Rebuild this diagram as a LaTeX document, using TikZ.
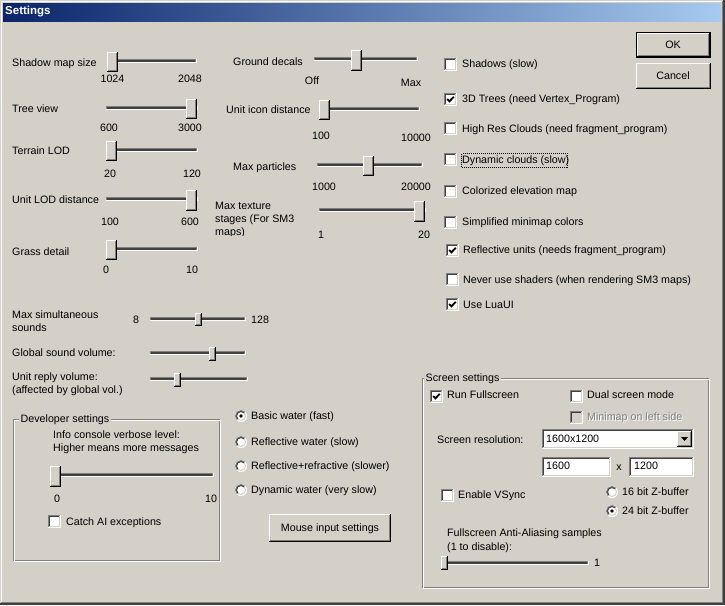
\documentclass[tikz,border=0pt]{standalone}
\usepackage{fontspec}
\setmainfont{Liberation Sans}
\definecolor{face}{HTML}{D4D0C8}
\definecolor{shd}{HTML}{808080}
\definecolor{dks}{HTML}{404040}
\definecolor{tleft}{HTML}{0A246A}
\definecolor{tright}{HTML}{A6CAF0}
\definecolor{hil}{HTML}{FFFFFF}
\tikzset{
  ui/.style={inner sep=0pt, text height=7.6pt, text depth=1.2pt, font=\fontsize{10.7}{12}\selectfont},
  lbl/.style={ui, anchor=west},
  num/.style={ui, anchor=center},
  grouplbl/.style={ui, anchor=west, fill=face, inner xsep=1.5pt},
  disabled/.style={lbl, text=shd},
}
% track: x1 x2 y
\newcommand\uitrack[3]{%
  \fill[hil] (#1,{#3-2}) rectangle ({#2+1},{#3+2});
  \fill[shd] (#1,{#3-2}) rectangle (#2,{#3+1});
  \fill[dks] ({#1+1},{#3-1}) rectangle ({#2-1},{#3+1});
}
% raised box: x1 y1 x2 y2
\newcommand\uiraised[4]{%
  \fill[face] (#1,#2) rectangle (#3,#4);
  \fill[black] (#1,{#4-1}) rectangle (#3,#4);
  \fill[black] ({#3-1},#2) rectangle (#3,#4);
  \fill[hil] (#1,#2) rectangle ({#3-1},{#2+1});
  \fill[hil] (#1,#2) rectangle ({#1+1},{#4-1});
  \fill[shd] ({#1+1},{#4-2}) rectangle ({#3-1},{#4-1});
  \fill[shd] ({#3-2},{#2+1}) rectangle ({#3-1},{#4-1});
}
% sunken box: x1 y1 x2 y2 fill
\newcommand\uisunken[5]{%
  \fill[#5] (#1,#2) rectangle (#3,#4);
  \fill[hil] (#1,{#4-1}) rectangle (#3,#4);
  \fill[hil] ({#3-1},#2) rectangle (#3,#4);
  \fill[shd] (#1,#2) rectangle ({#3-1},{#2+1});
  \fill[shd] (#1,#2) rectangle ({#1+1},{#4-1});
  \fill[dks] ({#1+1},{#2+1}) rectangle ({#3-2},{#2+2});
  \fill[dks] ({#1+1},{#2+1}) rectangle ({#1+2},{#4-2});
  \fill[face] ({#1+1},{#4-2}) rectangle ({#3-1},{#4-1});
  \fill[face] ({#3-2},{#2+1}) rectangle ({#3-1},{#4-1});
}
% checkbox at x y (top-left)
\newcommand\uichk[2]{\uisunken{#1}{#2}{#1+13}{#2+13}{hil}}
\newcommand\uitick[2]{%
  \draw[line width=1.8pt, miter limit=2] ({#1+3.2},{#2+6}) -- ({#1+5.4},{#2+8.4}) -- ({#1+9.8},{#2+3.8});
}
% radio at centre
\newcommand\uiradio[2]{%
  \fill[hil] (#1,#2) circle (6);
  \draw[shd, line width=1pt] ({#1+5.5*cos(135)},{#2+5.5*sin(135)}) arc[start angle=135, end angle=315, radius=5.5];
  \draw[dks, line width=1pt] ({#1+4.5*cos(135)},{#2+4.5*sin(135)}) arc[start angle=135, end angle=315, radius=4.5];
  \draw[face, line width=1pt] ({#1+4.5*cos(-45)},{#2+4.5*sin(-45)}) arc[start angle=-45, end angle=135, radius=4.5];
}
\newcommand\uidot[2]{\fill[black] (#1,#2) circle (1.9);}
% group box
\newcommand\uigroup[4]{%
  \draw[shd, line width=1pt] ({#1+0.5},{#2+0.5}) rectangle ({#3-1.5},{#4-1.5});
  \draw[hil, line width=1pt] ({#1+1.5},{#2+1.5}) rectangle ({#3-0.5},{#4-0.5});
}
\begin{document}
\begin{tikzpicture}[x=1pt, y=-1pt]
\useasboundingbox (0,0) rectangle (725,605);
% window
\fill[face] (0,0) rectangle (725,605);
\fill[hil] (1,1) rectangle (723,2);
\fill[hil] (1,1) rectangle (2,603);
\fill[shd] (1,602) rectangle (724,603);
\fill[shd] (722,1) rectangle (723,603);
\fill[dks] (0,603) rectangle (725,605);
\fill[dks] (723,0) rectangle (725,605);
\shade[left color=tleft, right color=tright] (3,3) rectangle (721,21);
\node[anchor=west, inner sep=0pt, text=white, font=\fontsize{11.5}{13}\selectfont\bfseries] (title) at (5,12) {Settings};

% ---------- left sliders ----------
\node[lbl] (l1) at (12,63) {Shadow map size};
\uitrack{107}{196}{61} \uiraised{107}{52}{118}{72}
\node[num] (l1a) at (112.5,79) {1024}; \node[num] (l1b) at (190,79) {2048};

\node[lbl] (l2) at (12,109) {Tree view};
\uitrack{106}{197}{108} \uiraised{186}{99}{197}{119}
\node[num] (l2a) at (109,128) {600}; \node[num] (l2b) at (190,128) {3000};

\node[lbl] (l3) at (12,151) {Terrain LOD};
\uitrack{106}{197}{150} \uiraised{106}{141}{117}{161}
\node[num] (l3a) at (110,174) {20}; \node[num] (l3b) at (192,174) {120};

\node[lbl] (l4) at (12,200) {Unit LOD distance};
\uitrack{106}{197}{199} \uiraised{186}{190}{197}{211}
\node[num] (l4a) at (110,222) {100}; \node[num] (l4b) at (190,222) {600};

\node[lbl] (l5) at (12,252) {Grass detail};
\uitrack{106}{197}{249} \uiraised{106}{240}{117}{260}
\node[num] (l5a) at (106,270) {0}; \node[num] (l5b) at (192,270) {10};

\node[lbl] (s1) at (12,315) {Max simultaneous};
\node[lbl] (s1b) at (12,328) {sounds};
\node[num] (s1n) at (136,320) {8};
\uitrack{150}{245}{319} \uiraised{195}{313}{202}{326}
\node[lbl] (s1m) at (251,320) {128};

\node[lbl] (s2) at (12,353) {Global sound volume:};
\uitrack{150}{245}{353} \uiraised{209}{347}{216}{361}

\node[lbl] (s3) at (12,377) {Unit reply volume:};
\node[lbl] (s3b) at (12,390) {(affected by global vol.)};
\uitrack{150}{247}{379} \uiraised{174}{373}{181}{387}

% ---------- middle sliders ----------
\node[lbl] (m1) at (233,62) {Ground decals};
\uitrack{314}{417}{59} \uiraised{351}{50}{362}{71}
\node[num] (m1a) at (312,81) {Off}; \node[num] (m1b) at (411,83) {Max};

\node[lbl] (m2) at (226,110) {Unit icon distance};
\uitrack{319}{419}{109} \uiraised{319}{100}{330}{120}
\node[num] (m2a) at (321,136) {100}; \node[num] (m2b) at (416,138) {10000};

\node[lbl] (m3) at (233,167) {Max particles};
\uitrack{317}{422}{165} \uiraised{363}{156}{374}{176}
\node[num] (m3a) at (324,187) {1000}; \node[num] (m3b) at (416,187) {20000};

\begin{scope}
\clip (210,195) rectangle (318,235);
\node[lbl] (m4) at (215,206) {Max texture};
\node[lbl] (m4b) at (215,219) {stages (For SM3};
\node[lbl] (m4c) at (215,232) {maps)};
\end{scope}
\uitrack{319}{425}{210} \uiraised{414}{201}{425}{222}
\node[num] (m4a) at (321,235) {1}; \node[num] (m4d) at (424,235) {20};

% ---------- checkboxes ----------
\uichk{444}{58} \node[lbl] (c1) at (462,64) {Shadows (slow)};
\uichk{444}{93} \uitick{444}{93} \node[lbl] (c2) at (462,99) {3D Trees (need Vertex\_Program)};
\uichk{444}{122} \node[lbl] (c3) at (462,129) {High Res Clouds (need fragment\_program)};
\uichk{444}{153} \node[lbl] (c4) at (462,160) {Dynamic clouds (slow)};
\draw[black, line width=0.8pt, dash pattern=on 1pt off 1pt] (461.5,153.5) rectangle (567.5,167.5);
\uichk{444}{185} \node[lbl] (c5) at (462,191) {Colorized elevation map};
\uichk{444}{216} \node[lbl] (c6) at (462,222) {Simplified minimap colors};
\uichk{446}{244} \uitick{446}{244} \node[lbl] (c7) at (463,250) {Reflective units (needs fragment\_program)};
\uichk{446}{273} \node[lbl] (c8) at (463,280) {Never use shaders (when rendering SM3 maps)};
\uichk{446}{298} \uitick{446}{298} \node[lbl] (c9) at (463,305) {Use LuaUI};

% ---------- buttons ----------
\fill[black] (636,32) rectangle (711,58);
\uiraised{637}{33}{710}{57}
\node[num] (ok) at (673,45) {OK};
\uiraised{636}{63}{711}{89}
\node[num] (cancel) at (673,76) {Cancel};

% ---------- developer settings ----------
\uigroup{13}{419}{221}{562}
\node[grouplbl] (dev) at (19,419) {Developer settings};
\node[lbl] (d1) at (53,435) {Info console verbose level:};
\node[lbl] (d2) at (53,448) {Higher means more messages};
\uitrack{50}{213}{475} \uiraised{50}{466}{61}{487}
\node[num] (d3) at (57,499) {0}; \node[num] (d4) at (211,499) {10};
\uichk{48}{515} \node[lbl] (d5) at (66,522) {Catch AI exceptions};

% ---------- water radios ----------
\uiradio{241}{416} \uidot{241}{416} \node[lbl] (w1) at (251,416) {Basic water (fast)};
\uiradio{241}{442} \node[lbl] (w2) at (251,442) {Reflective water (slow)};
\uiradio{241}{466} \node[lbl] (w3) at (251,466) {Reflective+refractive (slower)};
\uiradio{241}{490} \node[lbl] (w4) at (251,490) {Dynamic water (very slow)};

\uiraised{269}{514}{391}{542}
\node[num] (mouse) at (330,528) {Mouse input settings};

% ---------- screen settings ----------
\uigroup{422}{378}{710}{589}
\node[grouplbl] (scr) at (424,378) {Screen settings};
\uichk{430}{390} \uitick{430}{390} \node[lbl] (r1) at (447,395) {Run Fullscreen};
\uichk{570}{390} \node[lbl] (r2) at (587,395) {Dual screen mode};
\uisunken{570}{411}{583}{424}{face}
\node[disabled, text=white] (r3s) at (588,418) {Minimap on left side};
\node[disabled] (r3) at (587,417) {Minimap on left side};
\node[lbl] (r4) at (437,440) {Screen resolution:};
\uisunken{542}{429}{694}{449}{hil}
\node[lbl] (r5) at (546,439) {1600x1200};
\uiraised{677}{431}{692}{447}
\fill[black] (681,437) -- (688,437) -- (684.5,441) -- cycle;
\uisunken{542}{457}{611}{477}{hil}
\node[lbl] (r6) at (546,466) {1600};
\node[num] (r7) at (619,467) {x};
\uisunken{629}{457}{694}{477}{hil}
\node[lbl] (r8) at (634,466) {1200};
\uichk{441}{489} \node[lbl] (r9) at (458,495) {Enable VSync};
\uiradio{612}{492} \node[lbl] (r10) at (622,492) {16 bit Z-buffer};
\uiradio{612}{511} \uidot{612}{511} \node[lbl] (r11) at (622,511) {24 bit Z-buffer};
\node[lbl] (r12) at (447,533) {Fullscreen Anti-Aliasing samples};
\node[lbl] (r13) at (447,547) {(1 to disable):};
\uitrack{441}{588}{563} \uiraised{441}{556}{448}{570}
\node[num] (r14) at (597,563) {1};
\end{tikzpicture}
\end{document}
